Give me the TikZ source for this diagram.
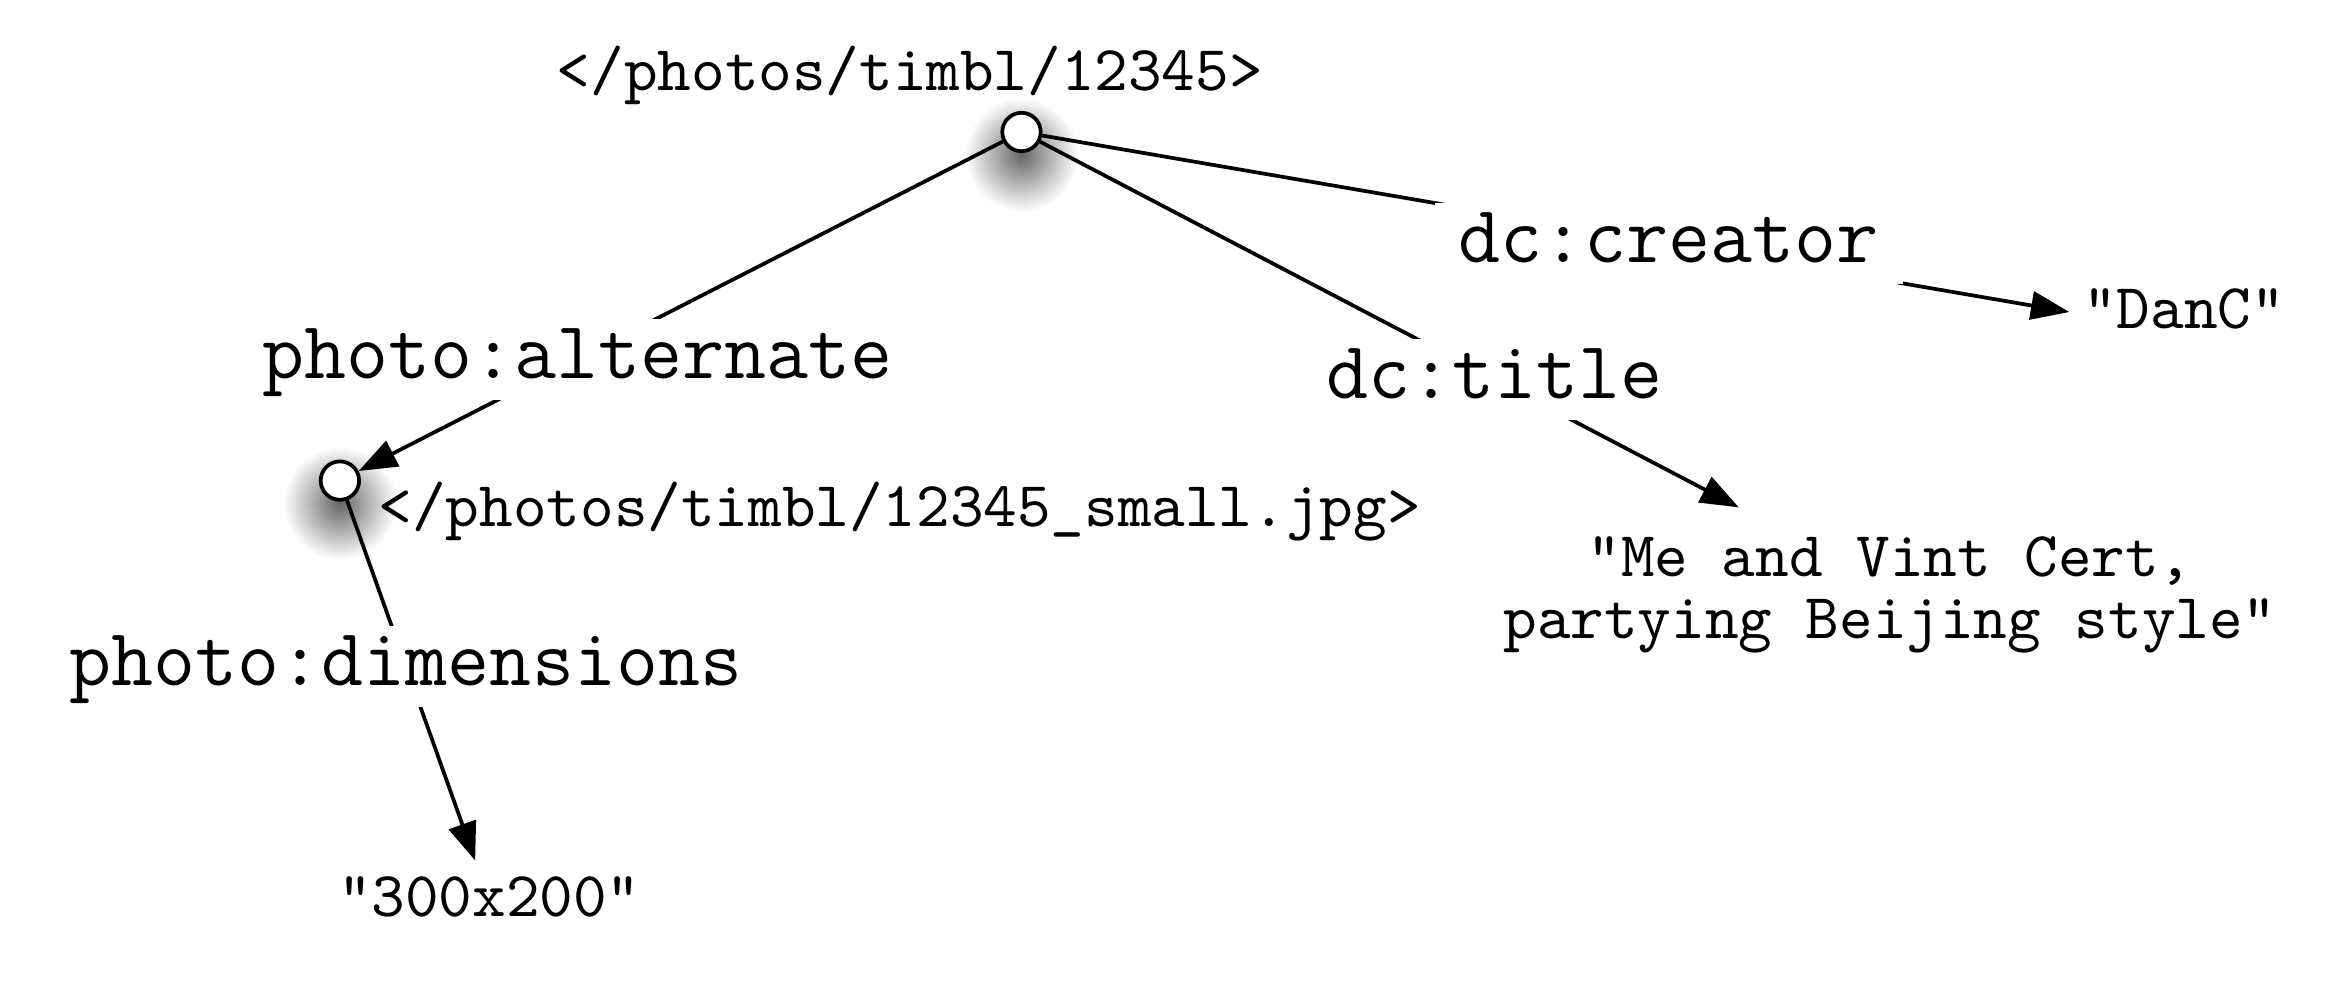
\documentclass[tikz,border=0pt]{standalone}
\usepackage{tikz}
\usetikzlibrary{arrows.meta,positioning,backgrounds}

\begin{document}
\begin{tikzpicture}[->,>={Triangle[length=6.4pt,width=4.7pt]},line width=0.62pt,on grid,
  res node/.style={circle,draw,fill=white,minimum size=6.4pt,inner sep=0pt},
  pred node/.style={fill=white,font=\ttfamily\fontsize{13.6pt}{16pt}\selectfont,text height=8.5pt,text depth=2pt,inner xsep=4pt,inner ysep=1.5pt},
  val node/.style={font=\ttfamily\fontsize{10.67pt}{12pt}\selectfont,text height=7pt,text depth=1.6pt,inner sep=2pt},
  halo/.style={inner color=black!60,outer color=white}]

  \useasboundingbox (-170.25pt,-144pt) rectangle (221.08pt,22pt);

  \node[res node] (root) at (0,0) {};
  \node[val node] (rootname) [above left=9.6pt and 18.6pt of root] {</photos/timbl/12345>};
  \node[res node] (alt) [below left=58.1pt and 113.6pt of root] {};
  \node[val node] (altname) [below right=4.9pt and 93.3pt of alt] {</photos/timbl/12345\_small.jpg>};
  \node[val node] (danc) [below right=30pt and 193.75pt of root] {"DanC"};
  \node[val node,align=center,font=\ttfamily\fontsize{10.67pt}{10.25pt}\selectfont,text height=17.25pt,text depth=0pt,inner ysep=4.25pt] (titleval) [below right=75.75pt and 144.75pt of root] {"Me and Vint Cert,\\partying Beijing style"};
  \node[val node] (dimval) [below right=69.95pt and 24.9pt of alt] {"300x200"};

  \path (root) edge node[pred node,pos=0.66] {photo:alternate} (alt)
        (root) edge node[pred node,pos=0.61] {dc:creator} (danc.west)
        (root) edge node[pred node,pos=0.65] {dc:title} (titleval)
        (alt) edge node[pred node,pos=0.46] {photo:dimensions} (dimval);

  \begin{scope}[on background layer]
    \shade[halo] ([yshift=-3.8pt]root.center) circle (9.5pt);
    \shade[halo] ([yshift=-3.8pt]alt.center) circle (9.5pt);
  \end{scope}
\end{tikzpicture}
\end{document}
